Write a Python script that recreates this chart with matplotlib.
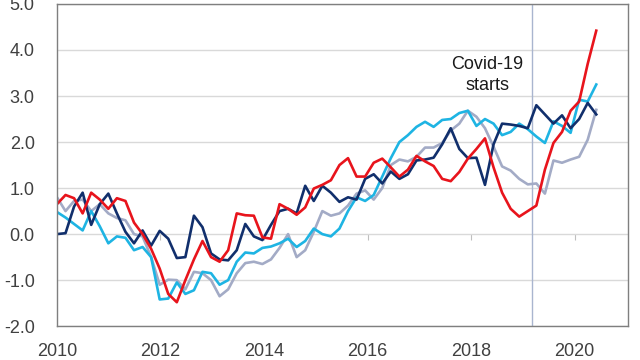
import matplotlib.pyplot as plt
import numpy as np

# bi-monthly observations, Jan 2010 .. mid 2020
years = np.linspace(2010, 2020.42, 64)

navy = [0.0, 0.02, 0.6, 0.9, 0.2, 0.65, 0.88, 0.45, 0.05, -0.2, 0.08, -0.25, 0.07, -0.1, -0.52, -0.5, 0.4, 0.15,
        -0.42, -0.55, -0.57, -0.35, 0.22, -0.05, -0.13, 0.2, 0.5, 0.55, 0.45, 1.05, 0.72, 1.05, 0.9, 0.7, 0.8,
        0.75, 1.2, 1.3, 1.1, 1.36, 1.2, 1.3, 1.6, 1.62, 1.66, 1.95, 2.3, 1.85, 1.65, 1.66, 1.07, 1.95,
        2.4, 2.38, 2.35, 2.3, 2.8, 2.6, 2.4, 2.58, 2.3, 2.5, 2.85, 2.6]

red = [0.65, 0.85, 0.78, 0.45, 0.9, 0.75, 0.55, 0.78, 0.72, 0.25, 0.0, -0.32, -0.75, -1.3, -1.48, -1.0, -0.55, -0.15,
       -0.5, -0.6, -0.35, 0.45, 0.41, 0.4, -0.07, -0.1, 0.65, 0.55, 0.42, 0.58, 0.99, 1.07, 1.17, 1.5, 1.65,
       1.25, 1.25, 1.55, 1.64, 1.45, 1.25, 1.4, 1.7, 1.58, 1.48, 1.2, 1.15, 1.35, 1.64, 1.85, 2.08, 1.45,
       0.9, 0.55, 0.38, 0.5, 0.62, 1.4, 1.98, 2.22, 2.68, 2.88, 3.7, 4.42]

cyan = [0.48, 0.36, 0.22, 0.08, 0.5, 0.17, -0.2, -0.05, -0.08, -0.35, -0.28, -0.5, -1.42, -1.4, -1.05, -1.3, -1.22, -0.82,
        -0.85, -1.1, -1.0, -0.6, -0.4, -0.42, -0.3, -0.27, -0.2, -0.1, -0.28, -0.15, 0.12, 0.0, -0.05, 0.12, 0.5,
        0.8, 0.72, 0.85, 1.25, 1.65, 2.0, 2.15, 2.33, 2.44, 2.33, 2.48, 2.5, 2.63, 2.68, 2.35, 2.5, 2.4,
        2.15, 2.22, 2.4, 2.28, 2.12, 1.98, 2.45, 2.35, 2.2, 2.92, 2.88, 3.25]

grey = [0.8, 0.5, 0.72, 0.75, 0.5, 0.65, 0.45, 0.35, 0.3, 0.0, -0.05, -0.5, -1.1, -0.99, -1.0, -1.2, -0.82, -0.85,
        -1.0, -1.35, -1.2, -0.85, -0.63, -0.6, -0.65, -0.55, -0.3, 0.0, -0.5, -0.35, 0.05, 0.5, 0.4, 0.45, 0.62,
        0.88, 0.95, 0.75, 1.0, 1.5, 1.62, 1.58, 1.68, 1.88, 1.88, 1.98, 2.25, 2.4, 2.68, 2.55, 2.3, 1.9,
        1.47, 1.38, 1.2, 1.08, 1.1, 0.88, 1.6, 1.55, 1.62, 1.68, 2.05, 2.7]

covid_start = 2019.18
year_ticks = [2010, 2012, 2014, 2016, 2018, 2020]
y_ticks = [-2, -1, 0, 1, 2, 3, 4, 5]

plt.rcParams['font.family'] = ['Liberation Sans', 'DejaVu Sans']

fig = plt.figure(figsize=(6.4, 3.6), dpi=100)
ax = fig.add_axes([0.089, 0.094, 0.892, 0.895])

ax.plot(years, grey, color='#A3ABC6', lw=1.9)
ax.plot(years, cyan, color='#1EB4E3', lw=1.9)
ax.plot(years, navy, color='#112F6C', lw=1.9)
ax.plot(years, red, color='#E8141C', lw=1.9)

ax.axvline(covid_start, color='#A9B5CF', lw=1.0, zorder=1)
ax.text(2018.31, 3.46, 'Covid-19\nstarts', ha='center', va='center',
        fontsize=13, color='#1a1a1a', linespacing=1.35)

ax.set_xlim(2010, 2021.03)
ax.set_ylim(-2, 5)
ax.set_xticks(year_ticks)
ax.set_yticks(y_ticks)
ax.yaxis.set_major_formatter(plt.FormatStrFormatter('%.1f'))
ax.tick_params(axis='both', length=0, labelsize=13, labelcolor='#404040')
ax.tick_params(axis='x', pad=12)
ax.tick_params(axis='y', pad=16)

ax.grid(axis='y', color='#D9D9D9', lw=1.0)
ax.set_axisbelow(True)
for s in ax.spines.values():
    s.set_color('#7F7F7F')
    s.set_linewidth(1.0)

# small category ticks where the horizontal axis crosses zero
sec = ax.secondary_xaxis(0, transform=ax.transData)
sec.set_xticks(year_ticks)
sec.tick_params(length=4, color='#BFBFBF', labelbottom=False)
sec.spines['bottom'].set_visible(False)

fig.savefig('out.png', dpi=100)
